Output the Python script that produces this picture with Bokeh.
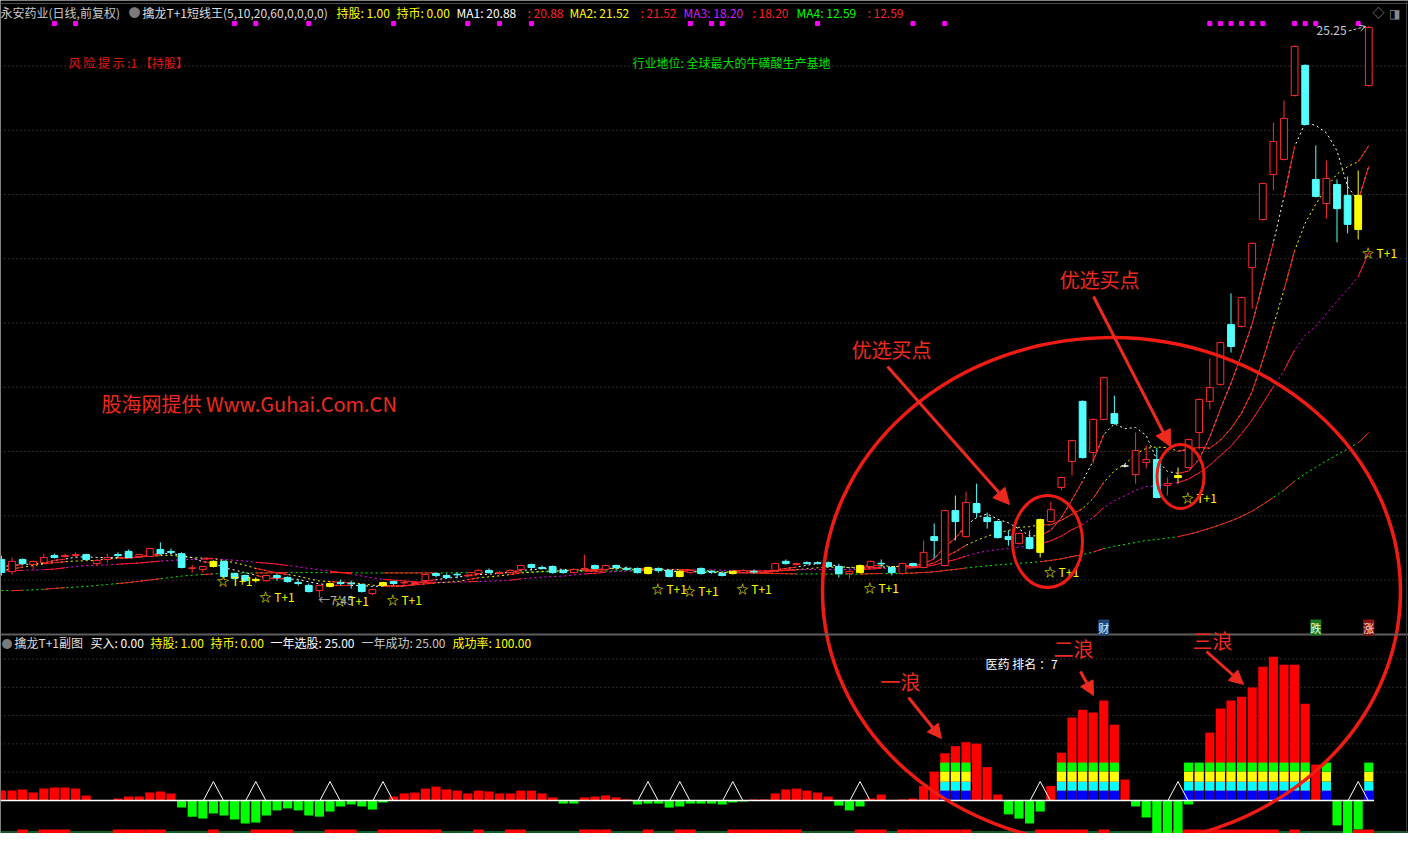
from bokeh.plotting import figure
from bokeh.models import Range1d, Label, Arrow, NormalHead, OpenHead, Span
from bokeh.core.properties import value
from bokeh.embed import file_html
from bokeh.resources import INLINE

# ---------------- data ----------------
opens = [8.64, 8.26, 8.64, 8.48, 8.54, 8.76, 8.73, 8.76, 8.79, 8.51, 8.64, 8.79, 8.89, 8.73, 8.73, 8.95, 8.89,
         8.82, 8.36, 8.33, 8.42, 8.58, 8.20, 8.14, 7.98, 7.98, 8.14, 8.08, 7.92, 7.83, 7.67, 7.80, 7.92,
         7.90, 7.86, 7.58, 7.83, 7.95, 7.91, 7.89, 7.98, 8.20, 8.14, 8.18, 8.13, 8.20, 8.30, 8.20, 8.23,
         8.33, 8.48, 8.39, 8.42, 8.30, 8.23, 8.34, 8.45, 8.33, 8.45, 8.36, 8.36, 8.20, 8.36, 8.30, 8.11,
         8.23, 8.36, 8.27, 8.20, 8.20, 8.23, 8.27, 8.23, 8.30, 8.58, 8.48, 8.54, 8.54, 8.54, 8.42, 8.20,
         8.23, 8.42, 8.52, 8.39, 8.20, 8.51, 8.39, 9.35, 8.45, 10.16, 9.35, 10.38, 9.95, 9.82, 9.35, 9.14,
         9.32, 8.86, 9.82, 10.88, 11.69, 13.56, 11.97, 13.00, 13.18, 11.55, 11.28, 11.66, 11.75, 10.94,
         11.19, 11.50, 12.59, 13.56, 14.09, 15.95, 15.89, 17.73, 19.22, 20.62, 21.09, 23.08, 24.02, 20.47,
         19.72, 20.31, 19.97, 18.91, 23.39]
highs = [8.76, 8.70, 8.67, 8.60, 8.82, 8.82, 8.82, 8.86, 8.82, 8.64, 8.82, 8.86, 8.95, 8.82, 8.98, 9.17, 8.98,
         8.86, 8.48, 8.45, 8.61, 8.61, 8.23, 8.17, 8.08, 8.17, 8.20, 8.11, 8.01, 7.89, 7.86, 7.92, 8.01,
         7.98, 7.89, 7.73, 7.95, 7.98, 7.98, 7.95, 8.20, 8.23, 8.20, 8.23, 8.20, 8.33, 8.36, 8.27, 8.33,
         8.48, 8.51, 8.45, 8.45, 8.33, 8.36, 8.79, 8.48, 8.48, 8.48, 8.42, 8.39, 8.42, 8.39, 8.33, 8.30,
         8.33, 8.39, 8.30, 8.23, 8.30, 8.33, 8.33, 8.30, 8.54, 8.64, 8.54, 8.58, 8.58, 8.58, 8.51, 8.30,
         8.48, 8.61, 8.64, 8.42, 8.54, 8.54, 9.23, 9.76, 10.19, 10.63, 10.75, 11.00, 10.10, 9.85, 9.54,
         9.48, 9.54, 9.91, 10.44, 11.22, 12.37, 13.59, 13.03, 14.33, 13.74, 11.62, 12.59, 12.19, 12.12,
         11.19, 11.50, 12.40, 13.65, 14.90, 15.42, 16.92, 16.82, 18.51, 20.37, 22.24, 22.93, 24.64, 24.05,
         21.53, 21.06, 20.47, 20.56, 20.75, 25.25]
lows = [8.14, 8.17, 8.48, 8.33, 8.51, 8.67, 8.70, 8.70, 8.61, 8.45, 8.54, 8.70, 8.70, 8.70, 8.73, 8.79, 8.79,
        8.36, 8.23, 8.23, 8.39, 8.05, 8.02, 7.95, 7.92, 7.95, 7.98, 7.92, 7.83, 7.61, 7.45, 7.77, 7.83,
        7.73, 7.61, 7.52, 7.80, 7.83, 7.83, 7.86, 7.95, 8.08, 8.05, 8.05, 8.08, 8.17, 8.20, 8.17, 8.20,
        8.30, 8.30, 8.33, 8.20, 8.20, 8.20, 8.33, 8.33, 8.30, 8.30, 8.30, 8.20, 8.17, 8.23, 8.08, 8.08,
        8.20, 8.17, 8.20, 8.11, 8.17, 8.20, 8.20, 8.20, 8.27, 8.48, 8.45, 8.48, 8.48, 8.39, 8.08, 8.05,
        8.20, 8.39, 8.39, 8.14, 8.17, 8.42, 8.36, 8.67, 8.42, 9.23, 9.32, 9.95, 9.60, 9.29, 9.07, 9.10,
        8.95, 8.70, 9.79, 10.79, 11.25, 11.78, 11.63, 12.97, 12.84, 11.50, 11.00, 11.47, 10.54, 10.63,
        11.00, 11.47, 12.06, 13.31, 14.06, 15.08, 15.86, 16.45, 19.19, 20.13, 21.06, 23.05, 22.15, 19.91,
        19.25, 18.51, 18.79, 18.60, 23.36]
closes = [8.23, 8.58, 8.51, 8.58, 8.70, 8.70, 8.76, 8.79, 8.64, 8.61, 8.70, 8.76, 8.70, 8.79, 8.98, 8.82, 8.86,
          8.39, 8.38, 8.42, 8.58, 8.11, 8.05, 7.98, 8.02, 8.14, 8.08, 7.95, 7.89, 7.64, 7.83, 7.89, 7.89,
          7.88, 7.64, 7.70, 7.92, 7.89, 7.92, 7.92, 8.17, 8.14, 8.08, 8.16, 8.15, 8.30, 8.23, 8.23, 8.30,
          8.45, 8.39, 8.36, 8.23, 8.23, 8.33, 8.36, 8.36, 8.45, 8.39, 8.33, 8.23, 8.39, 8.30, 8.11, 8.27,
          8.30, 8.20, 8.25, 8.14, 8.27, 8.30, 8.25, 8.24, 8.51, 8.51, 8.51, 8.51, 8.52, 8.42, 8.20, 8.27,
          8.45, 8.58, 8.50, 8.23, 8.51, 8.45, 8.86, 9.23, 10.16, 9.82, 10.41, 10.10, 9.82, 9.32, 9.26, 9.45,
          8.98, 9.88, 10.19, 11.19, 12.34, 11.81, 13.00, 14.30, 12.87, 11.55, 12.03, 11.75, 10.57, 11.00,
          11.25, 12.37, 13.62, 13.99, 15.39, 15.27, 16.79, 18.48, 20.34, 21.65, 22.37, 24.61, 22.18, 19.94,
          20.50, 19.56, 19.07, 19.97, 25.20]

ma1 = [8.42, 8.45, 8.48, 8.50, 8.52, 8.61, 8.65, 8.71, 8.72, 8.70, 8.70, 8.70, 8.68, 8.71, 8.79, 8.81, 8.83,
       8.77, 8.69, 8.57, 8.53, 8.38, 8.31, 8.23, 8.15, 8.06, 8.05, 8.03, 8.02, 7.94, 7.88, 7.84, 7.83, 7.83,
       7.83, 7.80, 7.81, 7.81, 7.81, 7.87, 7.96, 8.01, 8.05, 8.09, 8.14, 8.17, 8.18, 8.21, 8.24, 8.30, 8.32,
       8.35, 8.35, 8.33, 8.31, 8.30, 8.30, 8.35, 8.38, 8.38, 8.35, 8.36, 8.33, 8.27, 8.26, 8.27, 8.24, 8.23,
       8.23, 8.23, 8.23, 8.24, 8.24, 8.31, 8.36, 8.40, 8.46, 8.51, 8.49, 8.43, 8.38, 8.37, 8.38, 8.40, 8.41,
       8.45, 8.45, 8.51, 8.66, 9.04, 9.30, 9.70, 9.94, 10.06, 9.89, 9.78, 9.59, 9.37, 9.38, 9.55, 9.94, 10.50,
       11.08, 11.71, 12.53, 12.86, 12.71, 12.75, 12.50, 11.75, 11.38, 11.32, 11.39,
       11.76, 12.45, 13.32, 14.13, 15.01, 15.98, 17.25, 18.51, 19.93, 21.49, 22.23, 22.15, 21.92, 21.36,
       20.25, 19.81, 20.88]
ma2 = [8.30, 8.34, 8.40, 8.45, 8.50, 8.54, 8.57, 8.59, 8.60,
       8.61, 8.66, 8.68, 8.69, 8.72, 8.74, 8.76, 8.77, 8.73, 8.70, 8.68, 8.67, 8.60, 8.54, 8.46, 8.36, 8.29,
       8.22, 8.17, 8.12, 8.04, 7.97, 7.95, 7.93, 7.92, 7.88, 7.84, 7.82, 7.82, 7.82, 7.85, 7.88, 7.91, 7.93,
       7.95, 8.01, 8.07, 8.10, 8.13, 8.17, 8.22, 8.24, 8.27, 8.28, 8.29, 8.31, 8.31, 8.32, 8.35, 8.36, 8.34,
       8.33, 8.33, 8.34, 8.33, 8.32, 8.31, 8.30, 8.28, 8.25, 8.25, 8.25, 8.24, 8.23, 8.27, 8.30, 8.32, 8.35,
       8.38, 8.40, 8.40, 8.39, 8.41, 8.45, 8.45, 8.42, 8.42, 8.41, 8.45, 8.53, 8.72, 8.88, 9.08, 9.23, 9.36,
       9.47, 9.54, 9.64, 9.66, 9.72, 9.72, 9.86, 10.05, 10.22, 10.54, 11.04, 11.40, 11.61, 11.92, 12.10,
       12.14, 12.12,
       12.01, 12.07, 12.13, 12.10, 12.35, 12.72, 13.20, 13.87, 14.85, 15.92, 17.03, 18.25, 19.11, 19.70,
       20.21, 20.64, 20.87, 21.02, 21.52]
ma3 = [8.28, 8.29, 8.30, 8.31, 8.32, 8.34, 8.38, 8.42, 8.45, 8.46, 8.47, 8.49, 8.51, 8.53, 8.56, 8.59, 8.61,
       8.63, 8.64,
       8.645, 8.665, 8.64, 8.615, 8.59, 8.55, 8.525, 8.495, 8.45, 8.41, 8.36, 8.32, 8.275, 8.235, 8.19, 8.12,
       8.065,
       8.02, 7.995, 7.97, 7.945, 7.925, 7.93, 7.93, 7.935, 7.945, 7.955, 7.96, 7.975, 7.995, 8.035, 8.06,
       8.09, 8.105,
       8.12, 8.16, 8.19, 8.21, 8.24, 8.265, 8.28, 8.285, 8.30, 8.31, 8.31, 8.315, 8.31, 8.31, 8.315, 8.305,
       8.295,
       8.29, 8.285, 8.285, 8.30, 8.31, 8.315, 8.325, 8.33, 8.325, 8.325, 8.32, 8.325, 8.34, 8.36, 8.36, 8.37,
       8.38,
       8.415, 8.465, 8.56, 8.635, 8.745, 8.84, 8.905, 8.945, 8.98, 9.025, 9.055, 9.125, 9.22, 9.37, 9.565,
       9.725, 9.95,
       10.255, 10.47, 10.625, 10.79, 10.91, 10.93, 10.99, 11.03, 11.145, 11.335, 11.57, 11.875, 12.165,
       12.56, 12.985, 13.495, 14.02,
       14.52, 15.16, 15.62, 15.90, 16.28, 16.68, 17.035, 17.445, 18.20]
ma4 = [7.67, 7.67, 7.68, 7.69, 7.71, 7.74, 7.76, 7.78, 7.80, 7.83, 7.86, 7.89, 7.92, 7.96, 8.00, 8.04, 8.08,
       8.12, 8.15, 8.17, 8.19,
       8.21, 8.21, 8.22, 8.22, 8.22, 8.23, 8.23, 8.23, 8.23, 8.23, 8.23, 8.23, 8.23, 8.22, 8.22, 8.22, 8.22,
       8.22, 8.22, 8.22,
       8.22, 8.22, 8.23, 8.23, 8.23, 8.24, 8.24, 8.24, 8.25, 8.25, 8.25, 8.26, 8.26, 8.26, 8.27, 8.27, 8.28,
       8.28,
       8.29, 8.29, 8.29, 8.285, 8.28, 8.27, 8.26, 8.255, 8.245, 8.24, 8.23, 8.225, 8.215, 8.21, 8.205, 8.195,
       8.19,
       8.185, 8.19, 8.185, 8.185, 8.18, 8.185, 8.195, 8.20, 8.205, 8.21, 8.215, 8.235, 8.255, 8.295, 8.33,
       8.375, 8.41,
       8.44, 8.47, 8.495, 8.52, 8.54, 8.57, 8.61, 8.66, 8.73, 8.79, 8.87, 8.98, 9.05, 9.105, 9.17, 9.23, 9.26,
       9.305, 9.35, 9.42, 9.51, 9.61, 9.72, 9.84, 9.98, 10.145, 10.35, 10.57, 10.80, 11.075, 11.31, 11.505,
       11.71, 11.895, 12.08, 12.27, 12.59]

# T+1 signal days (yellow candles), hold days, top markers
signal_idx = [20, 24, 31, 36, 61, 64, 69, 81, 98, 111, 128]
hold_idx = [2, 4, 5, 6, 11, 12, 13, 14, 15, 20, 24, 25, 26, 27, 31, 32, 33, 36, 37, 38, 39, 40, 41, 45,
            48, 49, 55, 56, 57, 61, 64, 65, 69, 70, 71, 72, 73, 74, 75, 81, 82, 83, 85, 86, 87, 88, 89,
            90, 91, 98, 99, 100, 101, 102, 104, 111, 112, 113, 114, 115, 116, 117, 118, 119, 120, 122,
            128, 129]
top_dot_idx = [5, 7, 22, 24, 29, 37, 44, 47, 50, 65, 67, 68, 77, 86, 89, 114, 115, 116, 117, 118, 119,
               122, 123, 124, 128]

# sub chart (擒龙T+1副图)
sub_vals = [3.5, 3.5, 3.9, 2.8, 4.2, 4.6, 4.6, 4.2, 1.8, 0, 0, 0.7, 1.4, 1.4, 2.8, 3.2, 2.5,
            -2.5, -5.7, -6.4, -4.6, -5.3, -6.7, -8.1, -7.8, -5.3, -3.5, -2.8, -3.5, -5.3, -5.7, -3.9, -2.1, -1.4,
            -2.1, -3.2, -0.7, 1.4, 2.5, 2.8, 4.2, 4.9, 3.9, 3.5, 2.5, 3.5, 3.2, 2.5, 2.5, 3.5, 3.5,
            2.5, 1.1, -1.1, -1.1, 1.1, 1.4, 1.8, 1.1, 0.4, -1.4, -1.1, -1.1, -2.5, -2.1, -1.1, -1.1, -1.1,
            -1.4, -0.7, -0.35, 0.35, 0.35, 2.5, 3.9, 4.2, 3.5, 2.8, 1.4, -1.8, -3.5, -2.1, 0.7, 2.1, 0,
            0.35, 0.7, 5.1, 10.2, 16.7, 19.2, 20.6, 20.1, 11.8, 2.1, -4.9, -6.4, -8.1, -3.9, 5.1, 16.9, 29.3,
            32.1, 31.1, 35.3, 26.8, 7.4, -2.1, -6.0, -12.4, -14.1, -11.6, -1.4, 12.0, 24.0, 32.5, 35.3, 36.7, 39.9,
            47.3, 50.8, 48.0, 48.0, 34.2, 12.7, 5.0, -8.8, -12.4, -10.2, 5.0]
stack_idx = [89, 90, 91, 100, 101, 102, 103, 104, 105, 112, 113, 114, 115, 116, 117, 118, 119, 120, 121,
             122, 123, 125, 129]
stack_levels = [0, 3.5, 6.7, 10.2, 13.4]
stack_colors = ["#0000ff", "#00ffff", "#ffff00", "#00ff00"]
price_grid = [8, 10, 12, 14, 16, 18, 20, 22, 24]
sub_grid = [10, 20, 30, 40, 50]
badges = [(104, "财", "#1d4a7a", "#e0ecff"), (124, "跌", "#1b7a1b", "#e0ffe0"), (129, "涨", "#8a1212", "#ffe0e0")]

# ---------------- layout helpers (reference pixel -> data) ----------------
W, H = 1408, 833
SLOT, X0PX = 10.6, 0.9
PPU, BASE_PX, BASE_P = 32.125, 451.0, 12.0
SUB_PPU, SUB_BASE = 2.83, 800.0


def X(px):
    return (px - X0PX) / SLOT


def Y(py):
    return BASE_P + (BASE_PX - py) / PPU


def YS(py):
    return (SUB_BASE - py) / SUB_PPU


FONT = "Noto Sans CJK SC"
RED = "#ff2a2a"
CYAN = "#54ffff"
YEL = "#ffff00"
ANN = "#ee2a1e"

p = figure(width=W, height=H, x_range=Range1d(X(0), X(W)), y_range=Range1d(Y(H), Y(0)),
           output_backend="svg", toolbar_location=None, min_border=0, title=None,
           x_axis_location=None, y_axis_location=None,
           background_fill_color="black", border_fill_color="black", outline_line_color=None)
p.grid.visible = False
p.extra_y_ranges = {"sub": Range1d(YS(H), YS(0))}

N = len(closes)
xi = list(range(N))
x_lo, x_border = X(0), X(1406)

# grid lines
p.multi_line([[x_lo, x_border]] * len(price_grid), [[g, g] for g in price_grid],
             line_color="#5a5a5a", line_dash="1 3", line_width=1)
p.multi_line([[x_lo, x_border]] * len(sub_grid), [[g, g] for g in sub_grid],
             line_color="#5a5a5a", line_dash="1 3", line_width=1, y_range_name="sub")
p.add_layout(Span(location=Y(634), dimension="width", line_color="#5e5e5e", line_width=2))
p.add_layout(Span(location=Y(3), dimension="width", line_color="#4a4a4a", line_width=1))
p.add_layout(Span(location=x_border, dimension="height", line_color="#3c3c3c", line_width=1))

# ---------------- main chart ----------------
sig = set(signal_idx)
fills, lines = [], []
for i in xi:
    o, c = opens[i], closes[i]
    if i in sig:
        fills.append(YEL); lines.append(YEL)
    elif o == c:
        fills.append("#ffffff"); lines.append("#ffffff")
    elif c > o:
        fills.append("black"); lines.append(RED)
    else:
        fills.append(CYAN); lines.append(CYAN)
tops = [max(o, c) for o, c in zip(opens, closes)]
bots = [min(o, c) for o, c in zip(opens, closes)]

# moving averages (dashed) + red while holding
p.line(xi, ma4, line_color="#00ff00", line_dash="2 3", line_width=1)
p.line(xi, ma3, line_color="#ff00ff", line_dash="2 3", line_width=1)
p.line(xi, ma2, line_color="#ffff00", line_dash="2 3", line_width=1)
p.line(xi, ma1, line_color="#ffffff", line_dash="2 3", line_width=1)

hold = set(hold_idx)
runs, i = [], 0
while i < N:
    if i in hold:
        j = i
        while j + 1 < N and (j + 1) in hold:
            j += 1
        runs.append((i, j))
        i = j + 1
    else:
        i += 1
for ma in (ma1, ma2, ma3, ma4):
    xs, ys = [], []
    for a, b in runs:
        a0 = a - 1 if a == b else a
        xs.append(list(range(a0, b + 1)))
        ys.append([ma[k] for k in range(a0, b + 1)])
    p.multi_line(xs, ys, line_color="#ff1e1e", line_width=1)

p.segment(xi, highs, xi, lows, line_color=lines, line_width=1)
p.vbar(x=xi, width=0.64, top=tops, bottom=bots, fill_color=fills, line_color=lines, line_width=1)

# T+1 labels
p.text([i + 0.35 for i in signal_idx], [lows[i] - 0.42 for i in signal_idx], ["☆ T+1"] * len(signal_idx),
       text_color=YEL, text_font=value(FONT), text_font_size="12px", text_baseline="middle")

# high / low marks
last = N - 1
p.text([last - 2.1], [highs[last] - 0.16], [f"{highs[last]:.2f}"], text_color="#c6ced8",
       text_font=value(FONT), text_font_size="12px", text_align="right", text_baseline="middle")
p.add_layout(Arrow(end=OpenHead(size=6, line_color="#c6ced8", line_width=1), x_start=last - 1.9,
                   y_start=highs[last] - 0.16, x_end=last - 0.3, y_end=highs[last] - 0.02,
                   line_color="#c6ced8", line_dash="3 2", line_width=1))
lo_i = min(range(N), key=lambda k: lows[k])
p.text([lo_i - 0.1], [lows[lo_i] - 0.05], [f"←{lows[lo_i]:.2f}"], text_color="#b0b0b0",
       text_font=value(FONT), text_font_size="12px", text_baseline="middle")

# top magenta markers
p.scatter(top_dot_idx, [Y(23)] * len(top_dot_idx), marker="square", size=4,
          fill_color="#ff00ff", line_color="#ff00ff")

# ---------------- sub chart ----------------
pos_x = [i for i in xi if sub_vals[i] > 0]
neg_x = [i for i in xi if sub_vals[i] < 0]
p.line([X(0), X(W)], [YS(831.5)] * 2, line_color="#22b04a", line_width=1, y_range_name="sub")
p.vbar(x=hold_idx, width=1.0, top=YS(829), bottom=YS(834), fill_color="#ff0000", line_color=None,
       y_range_name="sub")
p.vbar(x=pos_x, width=0.86, top=[sub_vals[i] for i in pos_x], bottom=0, fill_color="#ff0000",
       line_color=None, y_range_name="sub")
p.vbar(x=neg_x, width=0.86, top=0, bottom=[sub_vals[i] for i in neg_x], fill_color="#00ff00",
       line_color=None, y_range_name="sub")
for k, col in enumerate(stack_colors):
    p.vbar(x=stack_idx, width=0.86, top=stack_levels[k + 1], bottom=stack_levels[k], fill_color=col,
           line_color=None, y_range_name="sub")
p.line([x_lo, N - 0.5], [0, 0], line_color="white", line_width=1.5, y_range_name="sub")
tri_h = 6.7
p.multi_line([[i - 0.95, i, i + 0.95] for i in signal_idx], [[0, tri_h, 0]] * len(signal_idx),
             line_color="white", line_width=1, y_range_name="sub")

# ---------------- annotations ----------------
p.ellipse(x=[X(1111)], y=[Y(591)], width=[578 / SLOT], height=[508 / PPU], fill_color=None,
          line_color="#f01c14", line_width=3.5)
p.ellipse(x=[X(1047)], y=[Y(541)], width=[70 / SLOT], height=[92 / PPU], fill_color=None,
          line_color="#f01c14", line_width=3)
p.ellipse(x=[X(1180)], y=[Y(476)], width=[47 / SLOT], height=[64 / PPU], fill_color=None,
          line_color="#f01c14", line_width=3)

for (x0, y0, x1, y1) in [(887, 366, 1009, 504), (1093, 296, 1170, 446)]:
    p.add_layout(Arrow(end=NormalHead(size=16, fill_color=ANN, line_color=ANN),
                       x_start=X(x0), y_start=Y(y0), x_end=X(x1), y_end=Y(y1),
                       line_color=ANN, line_width=3))
for (x0, y0, x1, y1) in [(908, 697, 941, 738), (1080, 671, 1093, 695), (1206, 651, 1243, 684)]:
    p.add_layout(Arrow(end=NormalHead(size=14, fill_color=ANN, line_color=ANN),
                       x_start=X(x0), y_start=YS(y0), x_end=X(x1), y_end=YS(y1),
                       line_color=ANN, line_width=3, y_range_name="sub"))


def lab(text, rx, ry, color, size=12, align="left"):
    p.add_layout(Label(x=rx, y=H - ry, x_units="screen", y_units="screen", text=text,
                       text_color=color, text_font=FONT, text_font_size=f"{size}px",
                       text_align=align, text_baseline="middle"))


# header line
hy = 12
lab("永安药业(日线,前复权)", 0, hy, "#c8c8c8")
lab("●", 128, hy, "#7a7a7a", 12)
lab("擒龙T+1短线王(5,10,20,60,0,0,0,0)", 142, hy, "#dcdcdc")
lab("持股: 1.00", 336, hy, YEL)
lab("持币: 0.00", 396, hy, YEL)
lab(f"MA1: {ma1[-1]:.2f}", 456, hy, "#ffffff")
lab(f": {ma1[-1]:.2f}", 527, hy, "#ff2020")
lab(f"MA2: {ma2[-1]:.2f}", 569, hy, YEL)
lab(f": {ma2[-1]:.2f}", 640, hy, "#ff2020")
lab(f"MA3: {ma3[-1]:.2f}", 683, hy, "#d21cff")
lab(f": {ma3[-1]:.2f}", 752, hy, "#ff2020")
lab(f"MA4: {ma4[-1]:.2f}", 796, hy, "#00ff00")
lab(f": {ma4[-1]:.2f}", 867, hy, "#ff2020")
lab("◇", 1372, hy, "#8a8a8a", 12)
lab("◨", 1388, hy, "#8a8a8a", 12)

# sub header
sy = 642
lab("●", 1, sy, "#7a7a7a", 11)
lab("擒龙T+1副图", 14, sy, "#dcdcdc")
lab("买入: 0.00", 90, sy, "#ffffff")
lab("持股: 1.00", 150, sy, YEL)
lab("持币: 0.00", 210, sy, YEL)
lab("一年选股: 25.00", 270, sy, "#ffffff")
lab("一年成功: 25.00", 361, sy, "#c8c8c8")
lab("成功率: 100.00", 452, sy, YEL)

lab("风 险 提 示 :1 【持股】", 68, 62, "#e01818")
lab("行业地位: 全球最大的牛磺酸生产基地", 632, 62, "#00e000")
lab("股海网提供 Www.Guhai.Com.CN", 101, 403, ANN, 20)
lab("优选买点", 851, 349, ANN, 20)
lab("优选买点", 1059, 279, ANN, 20)
lab("一浪", 880, 681, ANN, 20)
lab("二浪", 1053, 648, ANN, 20)
lab("三浪", 1192, 640, ANN, 20)
lab("医药 排名 ：7", 985, 663, "#ffffff")

for bi, txt, bg, fg in badges:
    p.add_layout(Label(x=bi, y=H - 627, y_units="screen", text=txt, text_color=fg,
                       text_font=FONT, text_font_size="11px", text_align="center",
                       text_baseline="middle", background_fill_color=bg))

open("out.html", "w", encoding="utf-8").write(file_html(p, INLINE, title="永安药业"))
